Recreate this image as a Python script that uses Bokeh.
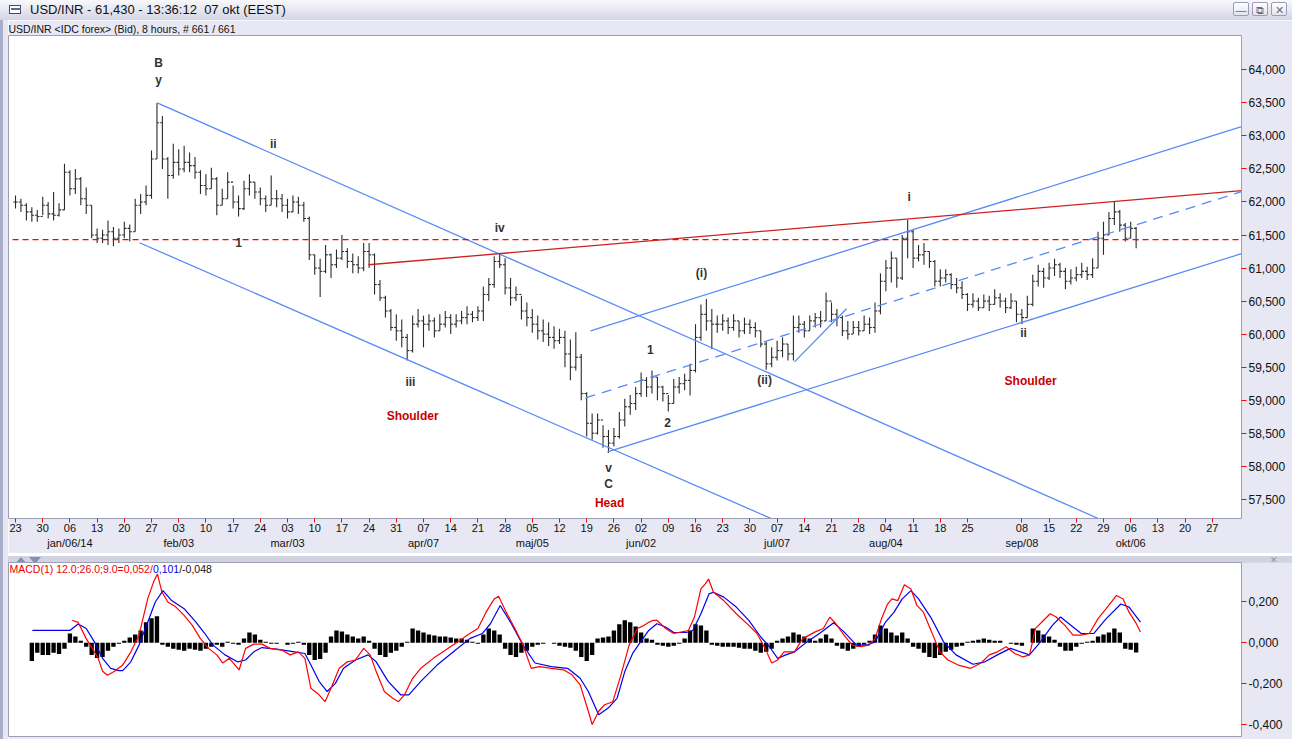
from bokeh.plotting import figure
from bokeh.models import Range1d, FixedTicker, LinearAxis, Label, Div, ColumnDataSource
from bokeh.layouts import column, row
from bokeh.core.properties import value
from bokeh.embed import file_html
from bokeh.resources import INLINE

# ---------------- data (USD/INR, one bar per trading day from 2013-12-23) ----------------
hi = [62.10, 62.05, 61.98, 61.92, 61.88, 62.08, 62.00, 62.15, 61.98, 62.58,
      62.48, 62.50, 62.38, 62.22, 61.95, 61.60, 61.58, 61.72, 61.62, 61.60,
      61.70, 61.66, 62.05, 62.12, 62.25, 62.78, 63.50, 63.30, 62.68, 62.88,
      62.80, 62.85, 62.75, 62.68, 62.48, 62.42, 62.52, 62.38, 62.20, 62.45,
      62.25, 62.10, 62.32, 62.42, 62.30, 62.22, 62.10, 62.40, 62.18, 62.12,
      62.05, 62.10, 62.08, 62.00, 61.78, 61.20, 61.14, 61.35, 61.22, 61.28,
      61.50, 61.30, 61.22, 61.18, 61.38, 61.38, 61.22, 60.82, 60.58, 60.38,
      60.30, 60.22, 60.00, 60.28, 60.38, 60.28, 60.30, 60.25, 60.30, 60.35,
      60.30, 60.30, 60.35, 60.42, 60.35, 60.42, 60.72, 60.85, 61.18, 61.22,
      61.15, 60.85, 60.72, 60.58, 60.48, 60.38, 60.28, 60.22, 60.18, 60.12,
      60.08, 60.05, 59.92, 60.03, 59.70, 59.12, 58.80, 58.80, 58.62, 58.55,
      58.58, 58.82, 59.02, 59.08, 59.20, 59.42, 59.35, 59.45, 59.35, 59.22,
      59.08, 59.32, 59.35, 59.40, 59.55, 60.15, 60.45, 60.53, 60.38, 60.28,
      60.30, 60.25, 60.30, 60.20, 60.25, 60.22, 60.18, 60.05, 59.88, 59.80,
      59.90, 59.95, 59.85, 60.28, 60.28, 60.20, 60.28, 60.32, 60.35, 60.63,
      60.48, 60.38, 60.28, 60.20, 60.20, 60.20, 60.28, 60.25, 60.48, 60.92,
      61.12, 61.25, 61.15, 61.50, 61.73, 61.58, 61.35, 61.38, 61.25, 61.12,
      60.98, 60.98, 60.92, 60.85, 60.80, 60.62, 60.62, 60.55, 60.60, 60.58,
      60.68, 60.62, 60.55, 60.62, 60.50, 60.38, 60.58, 60.90, 61.05, 61.00,
      61.08, 61.14, 61.08, 61.00, 60.98, 61.02, 61.08, 61.02, 61.15, 61.55,
      61.70, 61.85, 62.00, 61.88, 61.68, 61.70, 61.62]
lo = [61.90, 61.85, 61.72, 61.70, 61.70, 61.80, 61.75, 61.72, 61.78, 61.88,
      62.10, 62.12, 61.95, 61.82, 61.45, 61.38, 61.38, 61.35, 61.33, 61.38,
      61.45, 61.40, 61.55, 61.82, 61.95, 62.05, 62.65, 62.50, 62.05, 62.35,
      62.40, 62.45, 62.45, 62.35, 62.12, 62.10, 62.20, 61.80, 61.95, 62.05,
      61.90, 61.78, 61.88, 62.10, 62.05, 61.95, 61.85, 61.95, 61.92, 61.85,
      61.75, 61.85, 61.82, 61.70, 61.12, 60.90, 60.56, 60.92, 60.85, 61.00,
      61.12, 61.00, 60.92, 60.92, 60.95, 61.00, 60.60, 60.50, 60.25, 60.05,
      59.90, 59.80, 59.60, 59.72, 60.10, 59.80, 60.05, 59.95, 60.05, 60.10,
      60.00, 60.10, 60.15, 60.15, 60.18, 60.20, 60.20, 60.50, 60.70, 61.00,
      60.60, 60.43, 60.50, 60.22, 60.12, 60.02, 59.92, 59.88, 59.82, 59.78,
      59.85, 59.50, 59.30, 59.45, 59.00, 58.45, 58.40, 58.48, 58.28, 58.20,
      58.30, 58.42, 58.60, 58.78, 58.85, 59.05, 59.05, 59.10, 59.00, 58.98,
      58.83, 58.95, 59.10, 59.15, 59.07, 59.42, 59.90, 60.05, 59.77, 60.02,
      60.05, 60.00, 60.05, 59.95, 60.00, 60.00, 59.95, 59.80, 59.46, 59.50,
      59.60, 59.65, 59.60, 59.60, 60.02, 59.95, 60.05, 60.10, 60.10, 60.20,
      60.18, 60.12, 59.97, 59.92, 60.00, 59.98, 60.05, 60.00, 60.02, 60.30,
      60.65, 60.78, 60.70, 60.82, 61.15, 61.00, 61.10, 61.05, 61.00, 60.72,
      60.72, 60.78, 60.68, 60.62, 60.53, 60.35, 60.40, 60.35, 60.40, 60.35,
      60.45, 60.40, 60.32, 60.38, 60.18, 60.15, 60.25, 60.42, 60.72, 60.70,
      60.82, 60.88, 60.85, 60.68, 60.75, 60.80, 60.85, 60.82, 60.85, 61.00,
      61.20, 61.50, 61.65, 61.55, 61.40, 61.45, 61.30]
cl = [62.00, 61.95, 61.85, 61.80, 61.78, 61.95, 61.82, 61.80, 61.88, 62.45,
      62.20, 62.35, 62.05, 61.95, 61.50, 61.45, 61.50, 61.55, 61.45, 61.50,
      61.60, 61.55, 61.95, 62.00, 62.10, 62.65, 63.20, 62.65, 62.40, 62.60,
      62.50, 62.60, 62.55, 62.45, 62.25, 62.20, 62.35, 61.95, 62.05, 62.30,
      62.00, 61.90, 62.20, 62.30, 62.15, 62.05, 61.95, 62.05, 62.05, 61.95,
      61.85, 62.00, 61.95, 61.75, 61.20, 61.00, 60.95, 61.20, 61.05, 61.15,
      61.25, 61.10, 61.05, 61.00, 61.25, 61.20, 60.75, 60.55, 60.35, 60.10,
      60.05, 59.95, 59.75, 60.15, 60.20, 60.15, 60.20, 60.05, 60.15, 60.25,
      60.15, 60.20, 60.25, 60.30, 60.25, 60.35, 60.60, 60.75, 61.10, 61.05,
      60.70, 60.55, 60.60, 60.35, 60.25, 60.15, 60.05, 60.00, 59.95, 59.90,
      59.95, 59.70, 59.50, 59.65, 59.10, 58.65, 58.50, 58.70, 58.45, 58.35,
      58.45, 58.70, 58.90, 58.95, 59.10, 59.30, 59.20, 59.35, 59.20, 59.10,
      58.95, 59.20, 59.25, 59.30, 59.45, 59.95, 60.30, 60.20, 60.15, 60.15,
      60.20, 60.10, 60.20, 60.05, 60.15, 60.10, 60.05, 59.85, 59.55, 59.65,
      59.75, 59.85, 59.70, 60.10, 60.15, 60.05, 60.20, 60.25, 60.20, 60.50,
      60.30, 60.25, 60.05, 60.00, 60.10, 60.05, 60.15, 60.10, 60.35, 60.80,
      61.00, 61.15, 60.85, 61.45, 61.55, 61.15, 61.20, 61.25, 61.10, 60.80,
      60.85, 60.90, 60.75, 60.70, 60.60, 60.45, 60.50, 60.40, 60.50, 60.45,
      60.55, 60.50, 60.40, 60.50, 60.30, 60.25, 60.45, 60.80, 60.95, 60.85,
      61.00, 61.05, 60.95, 60.80, 60.85, 60.90, 60.95, 60.90, 61.00, 61.45,
      61.50, 61.75, 61.85, 61.65, 61.45, 61.60, 61.43]
last_price = 61.43

# MACD(12,26,9): points (trading-day position, value)
macd_x = [10.4, 11.5, 13, 14.5, 15.2, 16, 16.9, 18.2, 19.7, 21.2, 22.7, 24.3, 25.4, 26.1, 26.9,
          28, 29.5, 31, 32.5, 34, 35.5, 37, 38.1, 39.3, 41.1, 42.3, 43.8, 45.3, 46.8, 49,
          50.5, 52, 53.2, 54.3, 55.8, 56.9, 58, 59.5, 61, 62.5, 64, 65.2, 66.3, 67.8, 69.3,
          70.4, 71.5, 73, 74.5, 76.8, 79, 81.3, 83.5, 85, 86.5, 88, 88.8, 90.2, 91.8, 93.3,
          94.8, 96.3, 98.5, 100.8, 102.3, 103.8, 105.3, 106, 107.2, 108.3, 109.8, 111.3, 112.8, 114.3,
          115.2, 116.4, 117.2, 117.9, 119.5, 121, 122.5, 123.7, 124.8, 126, 126.8, 127.4, 128.3, 130.2,
          132.5, 134.8, 136.3, 137.8, 139, 140.1, 141.3, 143.2, 144.7, 147, 148.5, 149.7, 150.8, 152.3,
          153.8, 155.4, 156.9, 158, 159.2, 160.3, 161.1, 162.2, 163.4, 164.6, 165.7, 166.9, 168.4, 169.9,
          171.4, 173.3, 175.6, 177.5, 179, 180.5, 182.1, 183.7, 185.2, 186.4, 187.5, 189, 190.2, 191.3,
          192.9, 194.4, 195.9, 197.4, 199, 200.5, 202.4, 203.6, 204.7, 205.9, 206.8]
macd_v = [0.11, 0.10, 0.02, -0.045, -0.077, -0.14, -0.16, -0.14, -0.11, -0.045, 0.037, 0.215, 0.30, 0.337, 0.25,
          0.20, 0.175, 0.134, 0.085, 0.02, -0.028, -0.06, -0.10, -0.077, -0.134, -0.028, -0.007, -0.007, -0.028, -0.037,
          -0.06, -0.045, -0.077, -0.224, -0.256, -0.29, -0.224, -0.126, -0.094, -0.085, -0.028, -0.06, -0.142, -0.24, -0.272,
          -0.29, -0.256, -0.175, -0.126, -0.077, -0.037, 0.004, 0.045, 0.07, 0.15, 0.215, 0.228, 0.15, 0.07, -0.012,
          -0.126, -0.118, -0.126, -0.134, -0.158, -0.207, -0.337, -0.402, -0.337, -0.305, -0.29, -0.158, -0.012, 0.07,
          0.08, 0.10, 0.11, 0.11, 0.07, 0.045, 0.053, 0.06, 0.126, 0.264, 0.289, 0.313, 0.248, 0.207,
          0.142, 0.085, 0.045, -0.028, -0.10, -0.085, -0.045, -0.045, 0.02, 0.053, 0.07, 0.126, 0.093, 0.037,
          -0.012, -0.02, -0.012, 0.02, 0.118, 0.19, 0.215, 0.207, 0.285, 0.264, 0.183, 0.15, 0.053, -0.045,
          -0.085, -0.11, -0.126, -0.10, -0.06, -0.045, -0.02, -0.053, -0.07, -0.06, 0.07, 0.11, 0.142, 0.126,
          0.085, 0.037, 0.037, 0.045, 0.118, 0.167, 0.232, 0.215, 0.15, 0.10, 0.052]
sig_x = [3.1, 10, 11.5, 13, 14.5, 16, 17.5, 19, 19.7, 21.2, 22.7, 24.3, 25.7, 27.1, 28.7, 31, 33.2, 34.8,
         36.3, 38.5, 40.8, 42.3, 43.8, 45.3, 48.3, 51.3, 53.2, 54.3, 55.8, 57.3, 58.8, 60.3, 62.5, 64.8,
         66.3, 68.5, 70.8, 72.3, 74.5, 77.5, 80.5, 83.5, 85.8, 87.3, 89.1, 91, 93.3, 95.5, 98.5, 101.5,
         103.8, 105.3, 107.2, 109, 110.6, 112, 113.5, 114.9, 116.4, 117.9, 119.5, 121, 123.3, 124.5, 126,
         127.5, 128.3, 130.2, 132.5, 134.8, 137, 138.6, 140.1, 141.6, 143.2, 145.5, 147.8, 150.4, 152.3,
         154.6, 156.5, 158, 159.9, 161.5, 163, 164.6, 166, 168.4, 170.6, 172.9, 176, 178.2, 180.5, 182.9,
         186.4, 188.3, 190.6, 192.1, 194.4, 195.9, 198.2, 200.5, 203.2, 204.7, 206.8]
sig_v = [0.06, 0.06, 0.092, 0.07, 0.004, -0.077, -0.126, -0.137, -0.137, -0.094, -0.012, 0.10, 0.20, 0.256, 0.207, 0.167, 0.10, 0.045,
         -0.012, -0.06, -0.094, -0.085, -0.045, -0.024, -0.033, -0.045, -0.053, -0.11, -0.19, -0.24, -0.20, -0.126, -0.085, -0.06,
         -0.094, -0.19, -0.256, -0.256, -0.19, -0.11, -0.045, 0.02, 0.045, 0.093, 0.183, 0.10, -0.012, -0.10, -0.118, -0.126,
         -0.175, -0.24, -0.354, -0.32, -0.272, -0.142, -0.05, 0.004, 0.06, 0.093, 0.077, 0.05, 0.05, 0.06, 0.142,
         0.24, 0.248, 0.224, 0.175, 0.11, 0.028, -0.02, -0.077, -0.06, -0.045, 0.004, 0.045, 0.098, 0.053,
         -0.012, -0.012, 0.004, 0.10, 0.15, 0.215, 0.256, 0.215, 0.118, 0.004, -0.06, -0.106, -0.094, -0.06, -0.028,
         -0.06, 0.0, 0.085, 0.126, 0.077, 0.045, 0.045, 0.118, 0.19, 0.175, 0.101]
# MACD histogram, one value per trading day (first three days empty)
hist = [None, None, None, -0.09, -0.05, -0.06, -0.06, -0.05, -0.055, -0.03,
        0.045, 0.03, 0.01, -0.02, -0.06, -0.075, -0.07, -0.04, -0.02, -0.005,
        0.01, 0.025, 0.04, 0.06, 0.10, 0.12, 0.13, -0.01, -0.02, -0.03,
        -0.035, -0.04, -0.03, -0.035, -0.04, -0.03, -0.02, -0.01, -0.02, 0.005,
        -0.005, -0.01, 0.02, 0.05, 0.04, 0.015, 0.005, -0.005, -0.005, 0.0,
        -0.01, -0.005, 0.005, -0.01, -0.06, -0.085, -0.08, -0.05, 0.03, 0.06,
        0.055, 0.04, 0.03, 0.02, 0.03, 0.01, -0.03, -0.06, -0.07, -0.05,
        -0.04, -0.02, 0.005, 0.07, 0.06, 0.05, 0.04, 0.035, 0.03, 0.03,
        0.025, 0.02, 0.02, 0.015, 0.005, -0.005, 0.04, 0.07, 0.06, 0.04,
        -0.03, -0.06, -0.07, -0.05, -0.04, -0.02, -0.01, -0.005, 0.0, -0.005,
        -0.015, -0.02, -0.025, -0.04, -0.07, -0.09, -0.06, 0.02, 0.025, 0.03,
        0.06, 0.09, 0.11, 0.10, 0.08, 0.05, 0.02, 0.015, -0.01, -0.015,
        -0.02, -0.015, -0.005, 0.02, 0.06, 0.09, 0.085, 0.06, -0.01, -0.015,
        -0.02, -0.02, -0.02, -0.025, -0.03, -0.03, -0.04, -0.05, -0.045, -0.03,
        0.01, 0.02, 0.03, 0.05, 0.04, 0.03, 0.02, 0.01, 0.02, 0.04,
        0.02, -0.015, -0.03, -0.04, -0.03, -0.02, -0.01, 0.01, 0.04, 0.085,
        0.07, 0.05, 0.035, 0.05, 0.02, -0.02, -0.03, -0.05, -0.07, -0.075,
        -0.06, -0.045, -0.035, -0.02, -0.015, 0.005, 0.01, 0.015, 0.02, 0.015,
        0.01, 0.01, 0.0, -0.005, -0.01, -0.015, 0.0, 0.07, 0.06, 0.04,
        0.03, 0.015, -0.02, -0.04, -0.04, -0.02, -0.005, 0.005, 0.01, 0.03,
        0.04, 0.05, 0.07, 0.05, -0.03, -0.035, -0.048]
macd_last, signal_last, hist_last = 0.052, 0.101, -0.048

# axis ticks: weekly Mondays (trading-day index = 5 * week), Sep 01 label not shown
week_numbers = [k for k in range(45) if k != 36]
day_labels = ["23", "30", "06", "13", "20", "27", "03", "10", "17", "24", "03", "10", "17", "24", "31",
              "07", "14", "21", "28", "05", "12", "19", "26", "02", "09", "16", "23", "30", "07", "14",
              "21", "28", "04", "11", "18", "25", "08", "15", "22", "29", "06", "13", "20", "27"]
month_days = [10, 30, 50, 75, 95, 115, 140, 160, 185, 205]
month_labels = ["jan/06/14", "feb/03", "mar/03", "apr/07", "maj/05", "jun/02", "jul/07", "aug/04", "sep/08", "okt/06"]
price_ticks = [57.5, 58.0, 58.5, 59.0, 59.5, 60.0, 60.5, 61.0, 61.5, 62.0, 62.5, 63.0, 63.5, 64.0]
price_tick_labels = ["57,500", "58,000", "58,500", "59,000", "59,500", "60,000", "60,500", "61,000",
                     "61,500", "62,000", "62,500", "63,000", "63,500", "64,000"]
macd_ticks = [-0.4, -0.2, 0.0, 0.2]
macd_tick_labels = ["-0,400", "-0,200", "0,000", "0,200"]

# Elliott-wave annotations
wave_text = ["B", "y", "ii", "1", "iv", "iii", "Shoulder", "(i)", "1", "2", "(ii)", "v", "C", "Head", "i", "ii", "Shoulder"]
wave_x = [26.3, 26.3, 47.4, 41.0, 89.0, 72.6, 73.0, 126.1, 116.7, 119.85, 137.7, 109.0, 109.0, 109.2, 164.3, 185.3, 186.6]
wave_y = [64.11, 63.85, 62.88, 61.38, 61.61, 59.28, 58.76, 60.93, 59.76, 58.66, 59.31, 57.97, 57.73, 57.44, 62.08, 60.02, 59.29]
wave_red = [False, False, False, False, False, False, True, False, False, False, False, False, False, True, False, False, True]

# trend lines (x0, y0, x1, y1)
blue_lines = [(26.05, 63.50, 199.04, 57.209), (22.79, 61.383, 138.9, 57.209),
              (108.82, 58.217, 225.37, 61.217), (105.7, 60.05, 225.37, 63.141),
              (143.2, 59.58, 152.76, 60.383)]
blue_dashed = (104.78, 59.035, 225.37, 62.156)
red_line = (64.89, 61.05, 225.37, 62.171)

# ---------------- styling ----------------
FONT = "Liberation Sans"
LAV = "#e7e8f3"
BAR = "#2b2b2b"
BLUE = "#5a8af5"
GREY = "#333333"
DRED = "#c80000"
W = 1292
INNER = 1284

x_range = Range1d(-1.29, 225.37)

# ---------------- title bar ----------------
btn = ("position:absolute;top:2px;width:16px;height:14px;border:1px solid #9a9db4;border-radius:2px;"
       "background:linear-gradient(#ffffff,#e2e3ee);color:#6a6d82;font-size:11px;line-height:14px;text-align:center;")
title_html = (
    f"<div style='width:{W}px;height:20px;position:relative;background:linear-gradient(#f8f8fc,#d4d5e5);"
    f"font-family:\"{FONT}\";color:#111;overflow:hidden;'>"
    "<span style='position:absolute;left:9px;top:5px;width:12px;height:9px;border:1px solid #4a4a5a;background:#fff;'>"
    "<span style='position:absolute;left:1px;top:2px;width:10px;height:2px;background:#5a6aa0;'></span></span>"
    "<span style='position:absolute;left:30px;top:1px;font-size:13px;line-height:18px;white-space:pre;'>"
    "USD/INR - 61,430 - 13:36:12  07 okt (EEST)</span>"
    f"<span style='{btn}left:1233px;'>&#8212;</span>"
    f"<span style='{btn}left:1252px;'>&#10697;</span>"
    f"<span style='{btn}left:1271px;'>&#10005;</span>"
    "</div>")
title_div = Div(text=title_html, width=W, height=20, margin=(0, 0, 0, 0))

left_html = ("<div style='width:8px;height:719px;"
             "background:linear-gradient(to right,#a9aec8 0px,#a9aec8 3px,#e7e8f3 3px,#e7e8f3 8px);'></div>")
left_div = Div(text=left_html, width=8, height=719, margin=(0, 0, 0, 0))

# ---------------- price panel ----------------
p = figure(frame_width=1233, frame_height=483, x_range=x_range, y_range=Range1d(57.209, 64.52),
           y_axis_location="right", output_backend="svg", toolbar_location=None,
           min_border_left=0, min_border_right=51, min_border_top=0, min_border_bottom=35,
           border_fill_color=LAV, background_fill_color="white", outline_line_color="#9c9fb4")
p.title.text = "USD/INR <IDC forex> (Bid), 8 hours, # 661 / 661"
p.title.text_font = FONT
p.title.text_font_size = "10.5px"
p.title.text_font_style = "normal"
p.title.text_color = "#111111"
p.title.standoff = 1
p.title.offset = 0
p.xgrid.visible = False
p.ygrid.visible = False

xa = p.xaxis[0]
xa.ticker = FixedTicker(ticks=[5 * k for k in week_numbers])
xa.major_label_overrides = {5 * k: lab for k, lab in zip(week_numbers, day_labels)}
xa.major_tick_out = 4
xa.major_tick_in = 0
xa.major_tick_line_color = "red"
xa.minor_tick_line_color = None
xa.axis_line_color = None
xa.major_label_standoff = 1
xa.major_label_text_font = FONT
xa.major_label_text_font_size = "11px"
xa.major_label_text_color = "#111111"

ma = LinearAxis(ticker=FixedTicker(ticks=month_days),
                major_label_overrides={d: lab for d, lab in zip(month_days, month_labels)},
                major_tick_line_color=None, minor_tick_line_color=None, axis_line_color=None,
                major_tick_out=0, major_tick_in=0,
                major_label_standoff=2, major_label_text_font=FONT, major_label_text_font_size="11px",
                major_label_text_color="#111111")
p.add_layout(ma, "below")

ya = p.yaxis[0]
ya.ticker = FixedTicker(ticks=price_ticks)
ya.major_label_overrides = {t: lab for t, lab in zip(price_ticks, price_tick_labels)}
ya.major_tick_out = 5
ya.major_tick_in = 0
ya.major_tick_line_color = "red"
ya.minor_tick_line_color = None
ya.axis_line_color = None
ya.major_label_standoff = 2
ya.major_label_text_font = FONT
ya.major_label_text_font_size = "12px"
ya.major_label_text_color = "#111111"

days = list(range(len(cl)))
opens = [cl[0]] + cl[:-1]
src = ColumnDataSource(dict(x=days, hi=hi, lo=lo, op=opens, cl=cl,
                            xl=[d - 0.4 for d in days], xr=[d + 0.4 for d in days]))
p.segment(x0="x", y0="lo", x1="x", y1="hi", source=src, line_color=BAR, line_width=1.1)
p.segment(x0="xl", y0="op", x1="x", y1="op", source=src, line_color=BAR, line_width=1.1)
p.segment(x0="x", y0="cl", x1="xr", y1="cl", source=src, line_color=BAR, line_width=1.1)

# trend lines
for (x0, y0, x1, y1) in blue_lines:
    p.line([x0, x1], [y0, y1], line_color=BLUE, line_width=1.3)
bx0, by0, bx1, by1 = blue_dashed
p.line([bx0, bx1], [by0, by1], line_color=BLUE, line_width=1.3, line_dash="10 7")
rx0, ry0, rx1, ry1 = red_line
p.line([rx0, rx1], [ry0, ry1], line_color="#cc2020", line_width=1.3)
p.line([-0.55, 225.37], [last_price, last_price], line_color="#ff0000", line_width=1.2, line_dash="6 4")

wsrc = ColumnDataSource(dict(x=wave_x, y=wave_y, t=wave_text,
                             c=[DRED if r else GREY for r in wave_red]))
p.text(x="x", y="y", text="t", text_color="c", source=wsrc, text_font=value(FONT),
       text_font_style="bold", text_font_size="12px", text_align="center", text_baseline="middle")

p.add_layout(Label(x=225.37, y=last_price, x_offset=3, text="61,430", text_font=FONT,
                   text_font_size="12px", text_color="#0000ff", text_baseline="middle", text_align="left",
                   background_fill_color="white", border_line_color="red", border_line_width=1, padding=2))

# ---------------- separator ----------------
tri = "position:absolute;top:1px;width:0;height:0;border-left:6px solid transparent;border-right:6px solid transparent;"
sep_html = (f"<div style='width:{INNER}px;height:9px;position:relative;background:#d1d3e1;overflow:hidden;'>"
            f"<span style='{tri}left:7px;border-bottom:7px solid #8190b4;'></span>"
            f"<span style='{tri}left:21px;border-top:7px solid #8190b4;'></span>"
            "<span style='position:absolute;left:1262px;top:0px;font-size:9px;line-height:9px;font-weight:bold;"
            "color:#8d94ac;font-family:\"DejaVu Sans\";'>&#10005;</span>"
            "</div>")
sep_div = Div(text=sep_html, width=INNER, height=9, margin=(0, 0, 0, 0))

# ---------------- MACD panel ----------------
m = figure(frame_width=1233, frame_height=174, x_range=x_range, y_range=Range1d(-0.461, 0.394),
           y_axis_location="right", output_backend="svg", toolbar_location=None,
           min_border_left=0, min_border_right=51, min_border_top=0, min_border_bottom=3,
           border_fill_color=LAV, background_fill_color="white", outline_line_color="#9c9fb4")
m.xaxis.visible = False
m.xgrid.visible = False
m.ygrid.visible = False
my = m.yaxis[0]
my.ticker = FixedTicker(ticks=macd_ticks)
my.major_label_overrides = {t: lab for t, lab in zip(macd_ticks, macd_tick_labels)}
my.major_tick_out = 5
my.major_tick_in = 0
my.major_tick_line_color = "red"
my.minor_tick_line_color = None
my.axis_line_color = None
my.major_label_standoff = 2
my.major_label_text_font = FONT
my.major_label_text_font_size = "12px"
my.major_label_text_color = "#111111"

hx = [d for d, h in zip(days, hist) if h is not None]
hv = [h for h in hist if h is not None]
m.vbar(x=hx, top=hv, bottom=0, width=0.8, fill_color="black", line_color=None)
m.line(sig_x, sig_v, line_color="#0000ee", line_width=1.2)
m.line(macd_x, macd_v, line_color="#ff0000", line_width=1.2)

m.text(x=[-1.10], y=[0.361], text=["MACD(1) 12.0;26.0;9.0=0,052/"], text_color="#ee0000",
       text_font=value(FONT), text_font_size="10.5px", text_baseline="middle", text_align="left")
m.text(x=[25.26], y=[0.361], text=["0,101"], text_color="#0000ee",
       text_font=value(FONT), text_font_size="10.5px", text_baseline="middle", text_align="left")
m.text(x=[30.09], y=[0.361], text=["/-0,048"], text_color="#111111",
       text_font=value(FONT), text_font_size="10.5px", text_baseline="middle", text_align="left")

m.add_layout(Label(x=225.37, y=macd_last, x_offset=3, text="0,052", text_font=FONT,
                   text_font_size="12px", text_color="#0000ff", text_baseline="middle", text_align="left",
                   background_fill_color="white", border_line_color="red", border_line_width=1, padding=2))

body = row(left_div, column(p, sep_div, m, spacing=0), spacing=0)
layout = column(title_div, body, spacing=0)
open("out.html", "w").write(file_html(layout, INLINE))
